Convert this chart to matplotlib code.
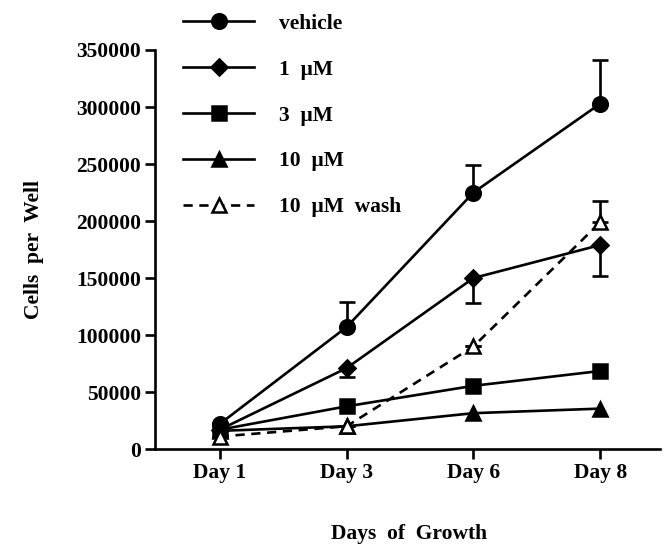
import numpy as np
import matplotlib.pyplot as plt

plt.rcParams["font.family"] = ["Liberation Serif", "DejaVu Serif"]
plt.rcParams["font.weight"] = "bold"

# Cell counts per well for each treatment
days = ["Day 1", "Day 3", "Day 6", "Day 8"]
vehicle = [22000, 107000, 225000, 303000]
vehicle_err_up = [0, 22000, 24000, 38000]
one_um = [17000, 71000, 150000, 179000]
one_um_err_down = [0, 8000, 22000, 27000]
three_um = [17000, 37500, 55500, 68500]
ten_um = [16000, 20000, 31500, 35500]
ten_um_wash = [11000, 20000, 90000, 199000]
wash_err_up = [0, 0, 0, 19000]

labels = ["vehicle", "1  \u00b5M", "3  \u00b5M", "10  \u00b5M", "10  \u00b5M  wash"]

FS = 15.5
LW = 1.9


def main():
    fig = plt.figure(figsize=(6.68, 5.47), dpi=100)
    ax = fig.add_axes([0.232, 0.179, 0.756, 0.7296])
    x = np.arange(len(days))

    series = [
        (vehicle, "o", "-", "black", 10.5),
        (one_um, "D", "-", "black", 8.5),
        (three_um, "s", "-", "black", 9.5),
        (ten_um, "^", "-", "black", 10.5),
        (ten_um_wash, "^", (0, (3.5, 2.5)), "white", 10),
    ]
    handles = []
    for (vals, mk, ls, face, ms), lab in zip(series, labels):
        h, = ax.plot(x, vals, color="black", linestyle=ls, linewidth=LW,
                     marker=mk, markersize=ms, markerfacecolor=face,
                     markeredgecolor="black", markeredgewidth=1.8,
                     label=lab, zorder=3)
        handles.append(h)

    # one-sided error bars
    ax.errorbar(x, vehicle, yerr=[np.zeros(4), vehicle_err_up], fmt="none",
                ecolor="black", elinewidth=LW, capsize=6, capthick=LW, zorder=2)
    ax.errorbar(x, one_um, yerr=[one_um_err_down, np.zeros(4)], fmt="none",
                ecolor="black", elinewidth=LW, capsize=6, capthick=LW, zorder=2)
    ax.errorbar(x, ten_um_wash, yerr=[np.zeros(4), wash_err_up], fmt="none",
                ecolor="black", elinewidth=LW, capsize=6, capthick=LW, zorder=2)

    ax.set_xlim(-0.51, 3.47)
    ax.set_ylim(0, 350000)
    ax.set_yticks(np.arange(0, 350001, 50000))
    ax.set_xticks(x)
    ax.set_xticklabels(days)
    ax.spines["top"].set_visible(False)
    ax.spines["right"].set_visible(False)
    ax.spines["left"].set_linewidth(LW)
    ax.spines["bottom"].set_linewidth(LW)
    ax.tick_params(direction="out", length=7, width=LW, labelsize=FS, pad=3)
    for t in ax.get_xticklabels() + ax.get_yticklabels():
        t.set_fontweight("bold")

    ax.set_ylabel("Cells  per  Well", fontsize=FS, fontweight="bold", labelpad=23)
    fig.text(0.613, 0.024, "Days  of  Growth", fontsize=FS, fontweight="bold",
             ha="center", va="center")

    fig.legend(handles=handles, loc="upper left", bbox_to_anchor=(0.274, 0.975),
               frameon=False, numpoints=1, handlelength=3.3,
               handletextpad=1.15, labelspacing=1.2, borderpad=0,
               borderaxespad=0, prop={"weight": "bold", "size": FS})

    fig.savefig("out.png", dpi=100)
    plt.close(fig)


main()
